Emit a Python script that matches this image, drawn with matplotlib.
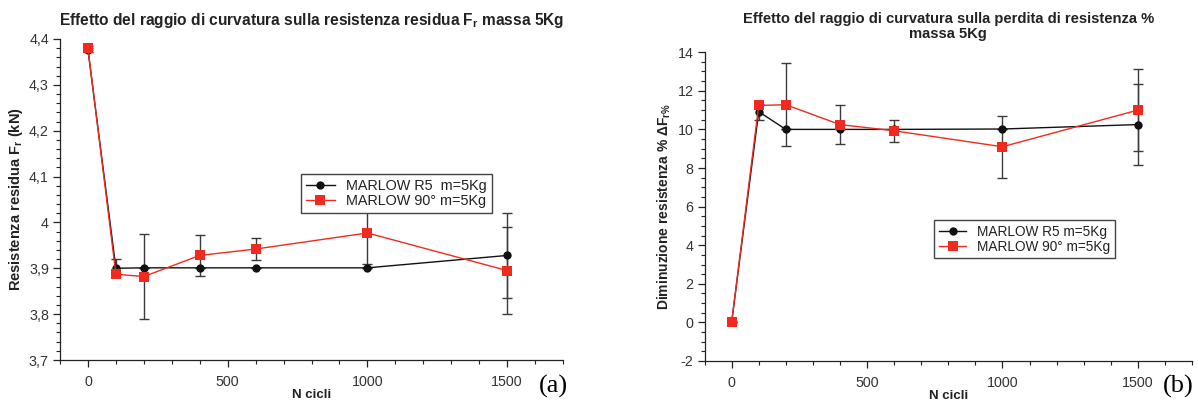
import matplotlib
matplotlib.use("Agg")
import matplotlib.pyplot as plt
from matplotlib.ticker import MultipleLocator, FuncFormatter

plt.rcParams['font.family'] = ['Liberation Sans', 'DejaVu Sans']
plt.rcParams['mathtext.default'] = 'regular'

# ---- data ----
cycles = [0, 100, 200, 400, 600, 1000, 1500]

# (a) residual strength Fr (kN)
fr_r5 = [4.376, 3.900, 3.901, 3.901, 3.901, 3.901, 3.928]
fr_r5_err = [0.004, 0.020, 0.0, 0.0, 0.0, 0.0, 0.093]
fr_90 = [4.380, 3.887, 3.882, 3.928, 3.942, 3.977, 3.895]
fr_90_err = [0.004, 0.0, 0.093, 0.045, 0.025, 0.067, 0.095]

# (b) strength loss %
dl_r5 = [0.0, 10.92, 10.0, 10.0, 10.0, 10.02, 10.25]
dl_r5_err = [0.0, 0.42, 0.0, 0.0, 0.0, 0.0, 2.12]
dl_90 = [0.0, 11.24, 11.28, 10.25, 9.93, 9.10, 11.0]
dl_90_err = [0.0, 0.0, 2.15, 1.0, 0.57, 1.6, 2.14]

labels_a = ["MARLOW R5  m=5Kg", "MARLOW 90° m=5Kg"]
labels_b = ["MARLOW R5 m=5Kg", "MARLOW 90° m=5Kg"]

BLACK = '#111111'
RED = '#f02a1e'
ERRC = '#3a3a3a'
TXT = '#222222'

fig = plt.figure(figsize=(11.98, 4.0), dpi=100)
axA = fig.add_axes([0.0501, 0.100, 0.4199, 0.8025])
axB = fig.add_axes([0.5881, 0.0975, 0.4069, 0.772])

comma = FuncFormatter(lambda v, p: ('%g' % round(v, 3)).replace('.', ','))


def style(ax):
    for s in ['top', 'right']:
        ax.spines[s].set_visible(False)
    for s in ['left', 'bottom']:
        ax.spines[s].set_color('#222222')
        ax.spines[s].set_linewidth(0.9)
    ax.tick_params(which='major', direction='out', length=5, width=0.9,
                   labelsize=10.3, colors='#222222', labelcolor='#333333')
    ax.tick_params(axis='x', which='major', pad=6)
    ax.tick_params(axis='y', which='major', pad=3)
    ax.tick_params(which='minor', direction='out', length=3, width=0.8,
                   colors='#222222')
    ax.xaxis.set_major_locator(MultipleLocator(500))
    ax.xaxis.set_minor_locator(MultipleLocator(100))
    ax.set_xlim(-100, 1700)


def series(ax, x, y, e, color, marker, ms, label, lw):
    ax.errorbar(x, y, yerr=e, fmt='none', ecolor=ERRC, elinewidth=1.0,
                capsize=3.5, capthick=1.0, zorder=2)
    ax.plot(x, y, color=color, marker=marker, ms=ms, lw=lw, label=label,
            markeredgewidth=0, zorder=3)


def legend(ax, x0, y0, fs):
    leg = ax.legend(loc='upper left', bbox_to_anchor=(x0, y0), borderaxespad=0,
                    fancybox=False, edgecolor='#444444', fontsize=fs,
                    handlelength=2.0, labelspacing=0.08, borderpad=0.35,
                    handletextpad=0.8, framealpha=1)
    leg.get_frame().set_linewidth(1.0)
    for t in leg.get_texts():
        t.set_color(TXT)
    return leg


# ---- (a) ----
style(axA)
series(axA, cycles, fr_r5, fr_r5_err, BLACK, 'o', 6, labels_a[0], 1.0)
series(axA, cycles, fr_90, fr_90_err, RED, 's', 7.5, labels_a[1], 1.0)
axA.set_ylim(3.7, 4.4)
axA.yaxis.set_major_locator(MultipleLocator(0.1))
axA.yaxis.set_minor_locator(MultipleLocator(0.02))
axA.yaxis.set_major_formatter(comma)
axA.set_title('Effetto del raggio di curvatura sulla resistenza residua F$_r$ massa 5Kg',
              fontsize=11.2, fontweight='bold', pad=10, color=TXT)
axA.set_xlabel('N cicli', fontsize=9.5, fontweight='bold', labelpad=0, color=TXT)
axA.set_ylabel('Resistenza residua F$_r$ (kN)', fontsize=10.5, fontweight='bold',
               labelpad=3, color=TXT)
legend(axA, 0.479, 0.579, 10.4)
fig.text(0.474, 0.004, '(a)', fontsize=19, family='Liberation Serif', ha='right', va='bottom')

# ---- (b) ----
style(axB)
series(axB, cycles, dl_r5, dl_r5_err, BLACK, 'o', 6, labels_b[0], 1.0)
series(axB, cycles, dl_90, dl_90_err, RED, 's', 7.5, labels_b[1], 1.0)
axB.set_ylim(-2, 14)
axB.yaxis.set_major_locator(MultipleLocator(2))
axB.yaxis.set_minor_locator(MultipleLocator(0.5))
axB.yaxis.set_major_formatter(comma)
axB.set_title('Effetto del raggio di curvatura sulla perdita di resistenza %\nmassa 5Kg',
              fontsize=10.6, fontweight='bold', pad=10, linespacing=1.15, color=TXT)
axB.set_xlabel('N cicli', fontsize=9.5, fontweight='bold', labelpad=0, color=TXT)
axB.set_ylabel('Diminuzione resistenza % ΔF$_{r\\%}$', fontsize=10, fontweight='bold',
               labelpad=3, color=TXT)
legend(axB, 0.471, 0.457, 9.8)
fig.text(0.9965, 0.004, '(b)', fontsize=19, family='Liberation Serif', ha='right', va='bottom')

fig.savefig('out.png', dpi=100)
